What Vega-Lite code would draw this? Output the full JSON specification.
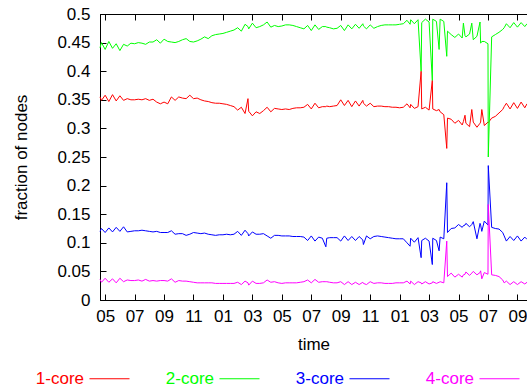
{
"$schema":"https://vega.github.io/schema/vega-lite/v6.json",
"width":427,"height":286,
"autosize":{"type":"none"},
"padding":{"left":100,"top":14,"right":0,"bottom":85},
"config":{"view":{"stroke":"#000","strokeWidth":1},"font":"Liberation Sans",
 "axis":{"domainColor":"#000","tickColor":"#000","labelColor":"#000","titleColor":"#000","labelFontSize":17,"titleFontSize":17,"titleFontWeight":"normal","grid":false,"tickSize":-6,"labelFont":"Liberation Sans","titleFont":"Liberation Sans","labelFlush":false,"labelOverlap":false}},
"data":{"values":[
{"h":4.65,"1-core":0.355,"2-core":0.441,"3-core":0.120,"4-core":0.036},
{"h":4.75,"1-core":0.349,"2-core":0.450,"3-core":0.125,"4-core":0.031},
{"h":5.0,"1-core":0.358,"2-core":0.438,"3-core":0.118,"4-core":0.038},
{"h":5.25,"1-core":0.347,"2-core":0.452,"3-core":0.126,"4-core":0.031},
{"h":5.5,"1-core":0.359,"2-core":0.440,"3-core":0.119,"4-core":0.037},
{"h":5.75,"1-core":0.348,"2-core":0.448,"3-core":0.127,"4-core":0.030},
{"h":6.0,"1-core":0.357,"2-core":0.436,"3-core":0.120,"4-core":0.038},
{"h":6.25,"1-core":0.349,"2-core":0.447,"3-core":0.128,"4-core":0.032},
{"h":6.5,"1-core":0.352,"2-core":0.444,"3-core":0.119,"4-core":0.035},
{"h":6.75,"1-core":0.350,"2-core":0.449,"3-core":0.120,"4-core":0.034},
{"h":7.0,"1-core":0.350,"2-core":0.448,"3-core":0.121,"4-core":0.034},
{"h":7.25,"1-core":0.351,"2-core":0.450,"3-core":0.121,"4-core":0.035},
{"h":7.5,"1-core":0.350,"2-core":0.449,"3-core":0.122,"4-core":0.033},
{"h":7.75,"1-core":0.352,"2-core":0.447,"3-core":0.121,"4-core":0.036},
{"h":8.0,"1-core":0.349,"2-core":0.451,"3-core":0.120,"4-core":0.033},
{"h":8.25,"1-core":0.351,"2-core":0.451,"3-core":0.119,"4-core":0.034},
{"h":8.5,"1-core":0.346,"2-core":0.455,"3-core":0.120,"4-core":0.033},
{"h":8.75,"1-core":0.343,"2-core":0.449,"3-core":0.118,"4-core":0.034},
{"h":9.0,"1-core":0.346,"2-core":0.456,"3-core":0.118,"4-core":0.034},
{"h":9.25,"1-core":0.343,"2-core":0.452,"3-core":0.118,"4-core":0.033},
{"h":9.5,"1-core":0.355,"2-core":0.451,"3-core":0.121,"4-core":0.037},
{"h":9.75,"1-core":0.349,"2-core":0.450,"3-core":0.115,"4-core":0.031},
{"h":10.0,"1-core":0.355,"2-core":0.452,"3-core":0.116,"4-core":0.034},
{"h":10.25,"1-core":0.353,"2-core":0.455,"3-core":0.116,"4-core":0.033},
{"h":10.5,"1-core":0.352,"2-core":0.457,"3-core":0.113,"4-core":0.033},
{"h":10.75,"1-core":0.358,"2-core":0.452,"3-core":0.115,"4-core":0.032},
{"h":11.0,"1-core":0.352,"2-core":0.451,"3-core":0.118,"4-core":0.031},
{"h":11.25,"1-core":0.353,"2-core":0.453,"3-core":0.117,"4-core":0.030},
{"h":11.5,"1-core":0.350,"2-core":0.456,"3-core":0.116,"4-core":0.030},
{"h":11.75,"1-core":0.348,"2-core":0.460,"3-core":0.117,"4-core":0.030},
{"h":12.0,"1-core":0.347,"2-core":0.457,"3-core":0.115,"4-core":0.030},
{"h":12.25,"1-core":0.345,"2-core":0.462,"3-core":0.114,"4-core":0.030},
{"h":12.5,"1-core":0.344,"2-core":0.464,"3-core":0.113,"4-core":0.029},
{"h":12.75,"1-core":0.344,"2-core":0.465,"3-core":0.114,"4-core":0.029},
{"h":13.0,"1-core":0.343,"2-core":0.466,"3-core":0.114,"4-core":0.029},
{"h":13.25,"1-core":0.342,"2-core":0.468,"3-core":0.115,"4-core":0.029},
{"h":13.5,"1-core":0.340,"2-core":0.470,"3-core":0.114,"4-core":0.029},
{"h":13.75,"1-core":0.338,"2-core":0.472,"3-core":0.115,"4-core":0.029},
{"h":14.0,"1-core":0.332,"2-core":0.476,"3-core":0.120,"4-core":0.031},
{"h":14.25,"1-core":0.337,"2-core":0.470,"3-core":0.113,"4-core":0.027},
{"h":14.5,"1-core":0.326,"2-core":0.482,"3-core":0.122,"4-core":0.033},
{"h":14.7,"1-core":0.352,"2-core":0.478,"3-core":0.116,"4-core":0.030},
{"h":14.75,"1-core":0.330,"2-core":0.474,"3-core":0.112,"4-core":0.026},
{"h":15.0,"1-core":0.322,"2-core":0.484,"3-core":0.119,"4-core":0.033},
{"h":15.25,"1-core":0.329,"2-core":0.476,"3-core":0.115,"4-core":0.029},
{"h":15.5,"1-core":0.326,"2-core":0.478,"3-core":0.115,"4-core":0.029},
{"h":15.75,"1-core":0.331,"2-core":0.481,"3-core":0.116,"4-core":0.030},
{"h":16.0,"1-core":0.337,"2-core":0.486,"3-core":0.112,"4-core":0.035},
{"h":16.25,"1-core":0.329,"2-core":0.477,"3-core":0.108,"4-core":0.031},
{"h":16.5,"1-core":0.335,"2-core":0.480,"3-core":0.113,"4-core":0.032},
{"h":16.75,"1-core":0.334,"2-core":0.478,"3-core":0.113,"4-core":0.030},
{"h":17.0,"1-core":0.333,"2-core":0.479,"3-core":0.112,"4-core":0.029},
{"h":17.25,"1-core":0.334,"2-core":0.481,"3-core":0.112,"4-core":0.030},
{"h":17.5,"1-core":0.333,"2-core":0.481,"3-core":0.112,"4-core":0.030},
{"h":17.75,"1-core":0.335,"2-core":0.480,"3-core":0.111,"4-core":0.030},
{"h":18.0,"1-core":0.336,"2-core":0.478,"3-core":0.111,"4-core":0.030},
{"h":18.25,"1-core":0.336,"2-core":0.476,"3-core":0.111,"4-core":0.031},
{"h":18.5,"1-core":0.337,"2-core":0.474,"3-core":0.110,"4-core":0.032},
{"h":18.75,"1-core":0.342,"2-core":0.480,"3-core":0.104,"4-core":0.035},
{"h":19.0,"1-core":0.334,"2-core":0.471,"3-core":0.112,"4-core":0.030},
{"h":19.25,"1-core":0.344,"2-core":0.481,"3-core":0.103,"4-core":0.036},
{"h":19.5,"1-core":0.336,"2-core":0.473,"3-core":0.110,"4-core":0.031},
{"h":19.75,"1-core":0.338,"2-core":0.478,"3-core":0.108,"4-core":0.032},
{"h":19.99,"1-core":0.338,"2-core":0.478,"3-core":0.093,"4-core":0.032},
{"h":20.05,"1-core":0.339,"2-core":0.477,"3-core":0.108,"4-core":0.032},
{"h":20.25,"1-core":0.338,"2-core":0.476,"3-core":0.109,"4-core":0.031},
{"h":20.5,"1-core":0.339,"2-core":0.474,"3-core":0.109,"4-core":0.030},
{"h":20.75,"1-core":0.340,"2-core":0.475,"3-core":0.109,"4-core":0.030},
{"h":21.0,"1-core":0.350,"2-core":0.480,"3-core":0.103,"4-core":0.032},
{"h":21.25,"1-core":0.340,"2-core":0.471,"3-core":0.112,"4-core":0.027},
{"h":21.5,"1-core":0.349,"2-core":0.481,"3-core":0.104,"4-core":0.032},
{"h":21.75,"1-core":0.338,"2-core":0.474,"3-core":0.111,"4-core":0.027},
{"h":22.0,"1-core":0.348,"2-core":0.482,"3-core":0.104,"4-core":0.031},
{"h":22.25,"1-core":0.339,"2-core":0.475,"3-core":0.111,"4-core":0.027},
{"h":22.5,"1-core":0.349,"2-core":0.483,"3-core":0.105,"4-core":0.031},
{"h":22.54,"1-core":0.344,"2-core":0.479,"3-core":0.097,"4-core":0.029},
{"h":22.75,"1-core":0.339,"2-core":0.474,"3-core":0.112,"4-core":0.027},
{"h":23.0,"1-core":0.344,"2-core":0.481,"3-core":0.107,"4-core":0.032},
{"h":23.25,"1-core":0.338,"2-core":0.475,"3-core":0.111,"4-core":0.029},
{"h":23.5,"1-core":0.339,"2-core":0.478,"3-core":0.112,"4-core":0.030},
{"h":23.75,"1-core":0.339,"2-core":0.480,"3-core":0.111,"4-core":0.030},
{"h":24.0,"1-core":0.338,"2-core":0.481,"3-core":0.110,"4-core":0.029},
{"h":24.25,"1-core":0.338,"2-core":0.481,"3-core":0.109,"4-core":0.029},
{"h":24.5,"1-core":0.337,"2-core":0.481,"3-core":0.108,"4-core":0.029},
{"h":24.75,"1-core":0.337,"2-core":0.481,"3-core":0.107,"4-core":0.030},
{"h":25.0,"1-core":0.336,"2-core":0.482,"3-core":0.107,"4-core":0.030},
{"h":25.25,"1-core":0.337,"2-core":0.483,"3-core":0.107,"4-core":0.030},
{"h":25.5,"1-core":0.343,"2-core":0.489,"3-core":0.100,"4-core":0.033},
{"h":25.71,"1-core":0.336,"2-core":0.482,"3-core":0.094,"4-core":0.028},
{"h":25.75,"1-core":0.342,"2-core":0.490,"3-core":0.108,"4-core":0.033},
{"h":26.0,"1-core":0.335,"2-core":0.483,"3-core":0.101,"4-core":0.027},
{"h":26.25,"1-core":0.338,"2-core":0.490,"3-core":0.109,"4-core":0.032},
{"h":26.46,"1-core":0.400,"2-core":0.400,"3-core":0.074,"4-core":0.030},
{"h":26.5,"1-core":0.334,"2-core":0.485,"3-core":0.104,"4-core":0.028},
{"h":26.75,"1-core":0.337,"2-core":0.491,"3-core":0.108,"4-core":0.032},
{"h":27.0,"1-core":0.332,"2-core":0.486,"3-core":0.103,"4-core":0.028},
{"h":27.22,"1-core":0.384,"2-core":0.384,"3-core":0.062,"4-core":0.030},
{"h":27.25,"1-core":0.334,"2-core":0.491,"3-core":0.108,"4-core":0.032},
{"h":27.5,"1-core":0.331,"2-core":0.487,"3-core":0.104,"4-core":0.029},
{"h":27.68,"1-core":0.333,"2-core":0.438,"3-core":0.086,"4-core":0.031},
{"h":27.75,"1-core":0.329,"2-core":0.491,"3-core":0.110,"4-core":0.032},
{"h":28.0,"1-core":0.324,"2-core":0.487,"3-core":0.107,"4-core":0.030},
{"h":28.2,"1-core":0.265,"2-core":0.426,"3-core":0.205,"4-core":0.103},
{"h":28.25,"1-core":0.318,"2-core":0.470,"3-core":0.118,"4-core":0.041},
{"h":28.5,"1-core":0.316,"2-core":0.464,"3-core":0.125,"4-core":0.047},
{"h":28.75,"1-core":0.309,"2-core":0.459,"3-core":0.126,"4-core":0.040},
{"h":29.0,"1-core":0.314,"2-core":0.465,"3-core":0.132,"4-core":0.045},
{"h":29.25,"1-core":0.306,"2-core":0.458,"3-core":0.127,"4-core":0.040},
{"h":29.33,"1-core":0.312,"2-core":0.484,"3-core":0.130,"4-core":0.044},
{"h":29.44,"1-core":0.323,"2-core":0.462,"3-core":0.131,"4-core":0.045},
{"h":29.5,"1-core":0.309,"2-core":0.460,"3-core":0.134,"4-core":0.049},
{"h":29.75,"1-core":0.303,"2-core":0.465,"3-core":0.128,"4-core":0.043},
{"h":29.9,"1-core":0.333,"2-core":0.484,"3-core":0.132,"4-core":0.047},
{"h":30.0,"1-core":0.311,"2-core":0.455,"3-core":0.137,"4-core":0.050},
{"h":30.25,"1-core":0.302,"2-core":0.461,"3-core":0.107,"4-core":0.044},
{"h":30.46,"1-core":0.309,"2-core":0.486,"3-core":0.134,"4-core":0.048},
{"h":30.5,"1-core":0.311,"2-core":0.449,"3-core":0.131,"4-core":0.051},
{"h":30.58,"1-core":0.333,"2-core":0.452,"3-core":0.120,"4-core":0.037},
{"h":30.75,"1-core":0.305,"2-core":0.452,"3-core":0.138,"4-core":0.048},
{"h":31.0,"1-core":0.311,"2-core":0.448,"3-core":0.131,"4-core":0.045},
{"h":31.02,"1-core":0.310,"2-core":0.250,"3-core":0.235,"4-core":0.167},
{"h":31.25,"1-core":0.318,"2-core":0.460,"3-core":0.127,"4-core":0.044},
{"h":31.5,"1-core":0.321,"2-core":0.464,"3-core":0.125,"4-core":0.043},
{"h":31.75,"1-core":0.327,"2-core":0.468,"3-core":0.124,"4-core":0.041},
{"h":32.0,"1-core":0.333,"2-core":0.473,"3-core":0.118,"4-core":0.035},
{"h":32.1,"1-core":0.338,"2-core":0.476,"3-core":0.112,"4-core":0.030},
{"h":32.25,"1-core":0.344,"2-core":0.483,"3-core":0.103,"4-core":0.033},
{"h":32.5,"1-core":0.334,"2-core":0.476,"3-core":0.111,"4-core":0.027},
{"h":32.75,"1-core":0.345,"2-core":0.485,"3-core":0.104,"4-core":0.032},
{"h":33.0,"1-core":0.335,"2-core":0.477,"3-core":0.112,"4-core":0.027},
{"h":33.25,"1-core":0.346,"2-core":0.485,"3-core":0.103,"4-core":0.032},
{"h":33.5,"1-core":0.336,"2-core":0.478,"3-core":0.110,"4-core":0.028},
{"h":33.65,"1-core":0.343,"2-core":0.483,"3-core":0.106,"4-core":0.031}
]},
"layer":[
 {"transform":[{"fold":["1-core","2-core","3-core","4-core"],"as":["series","v"]}],
  "mark":{"type":"line","strokeWidth":1},
  "encoding":{
   "x":{"field":"h","type":"quantitative","scale":{"domain":[4.65,33.65],"nice":false,"zero":false},
     "axis":{"orient":"bottom","values":[5,7,9,11,13,15,17,19,21,23,25,27,29,31,33],"labelExpr":"(datum.value % 12 < 10 ? '0' : '') + (datum.value % 12)","title":"time","labelPadding":14,"titlePadding":12}},
   "y":{"field":"v","type":"quantitative","scale":{"domain":[0,0.5],"nice":false,"zero":true},
     "axis":{"values":[0,0.05,0.1,0.15,0.2,0.25,0.3,0.35,0.4,0.45,0.5],"format":"~g","title":"fraction of nodes","labelPadding":16,"titlePadding":26}},
   "color":{"field":"series","type":"nominal","scale":{"domain":["1-core","2-core","3-core","4-core"],"range":["#ff0000","#00ff00","#0000ff","#ff00ff"]},
     "legend":{"orient":"none","legendX":-11,"legendY":344,"direction":"horizontal","title":null,"symbolType":"stroke","symbolSize":1600,"symbolStrokeWidth":1,"labelFontSize":17,"labelFont":"Liberation Sans","labelAlign":"right","labelOffset":-46,"columnPadding":33,"labelLimit":200,
       "labelColor":{"expr":"datum.value == '1-core' ? '#ff0000' : datum.value == '2-core' ? '#00ff00' : datum.value == '3-core' ? '#0000ff' : '#ff00ff'"}}}
  }},
 {"data":{"values":[{"h":4.65},{"h":33.65}]},
  "mark":{"type":"rule","opacity":0},
  "encoding":{"x":{"field":"h","type":"quantitative","scale":{"domain":[4.65,33.65],"nice":false,"zero":false},
    "axis":{"orient":"top","values":[5,7,9,11,13,15,17,19,21,23,25,27,29,31,33],"labels":false,"title":null}}}}
],
"resolve":{"axis":{"x":"independent"}}
}
